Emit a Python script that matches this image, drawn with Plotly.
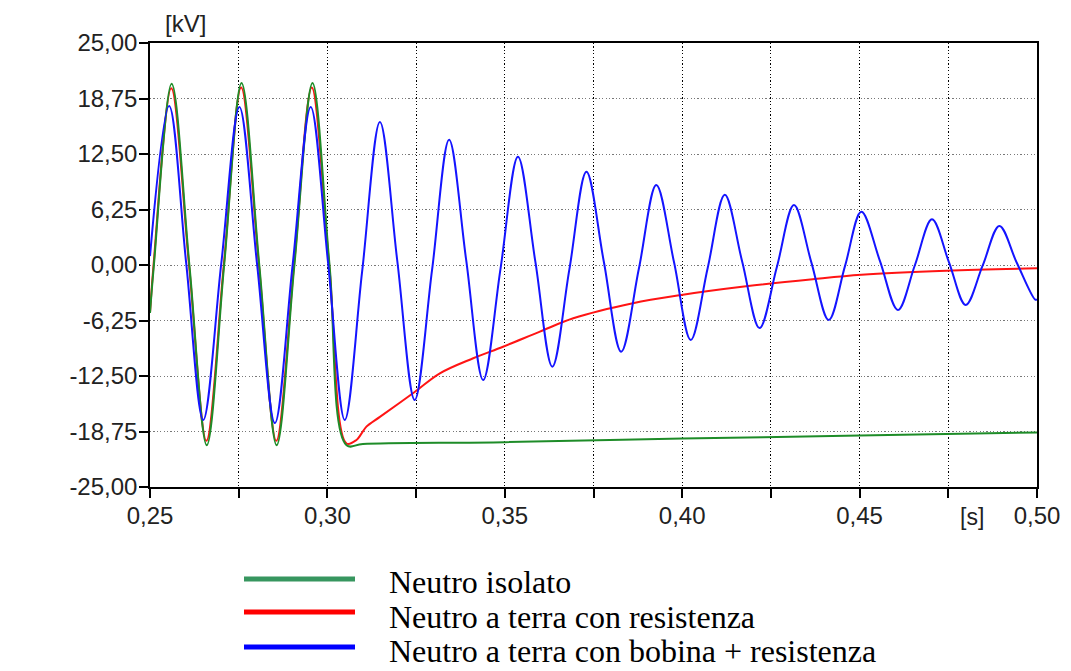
import plotly.graph_objects as go

# ---- data ----
t_green = [0.2500, 0.2511, 0.2561, 0.2611, 0.2660, 0.2709, 0.2758, 0.2808, 0.2857,
           0.2907, 0.2958, 0.3006, 0.3054, 0.3100, 0.3500, 0.4000, 0.4500, 0.5000]
v_green = [-5.4, 0.0, 20.4, 0.0, -20.3, 0.0, 20.5, 0.0, -20.3,
           0.0, 20.5, 0.0, -20.3, -20.15, -19.95, -19.55, -19.2, -18.85]

t_red = [0.2500, 0.2510, 0.2560, 0.2610, 0.2659, 0.2708, 0.2757, 0.2807, 0.2856,
         0.2906, 0.2956, 0.3005, 0.3054, 0.3082, 0.3096, 0.3110, 0.3148, 0.3246,
         0.3317, 0.3411, 0.3495, 0.3599, 0.3693, 0.3861, 0.3993, 0.4180, 0.4368,
         0.4505, 0.4744, 0.5000]
v_red = [-5.4, 0.0, 19.9, 0.0, -19.8, 0.0, 20.0, 0.0, -19.8,
         0.0, 20.0, 0.0, -20.1, -19.7, -19.0, -18.2, -17.1, -14.3,
         -12.2, -10.5, -9.2, -7.5, -6.0, -4.3, -3.4, -2.4, -1.6,
         -1.1, -0.64, -0.37]

t_blue = [0.2500, 0.2554, 0.2602, 0.2650, 0.2701, 0.2752, 0.2802, 0.2852, 0.2902,
          0.2953, 0.3002, 0.3049, 0.3098, 0.3148, 0.3197, 0.3246, 0.3295, 0.3343,
          0.3391, 0.3439, 0.3488, 0.3537, 0.3586, 0.3634, 0.3682, 0.3730, 0.3779,
          0.3828, 0.3878, 0.3927, 0.3977, 0.4024, 0.4072, 0.4120, 0.4169, 0.4218,
          0.4267, 0.4315, 0.4364, 0.4413, 0.4459, 0.4505, 0.4557, 0.4608, 0.4656,
          0.4704, 0.4752, 0.4799, 0.4847, 0.4894, 0.4943, 0.4995, 0.5000]
v_blue = [1.0, 17.9, 0.2, -17.45, 0.2, 17.8, 0.0, -17.8, 0.0,
          17.8, 0.2, -17.45, -0.7, 16.1, 0.45, -15.2, -0.55, 14.1,
          0.6, -12.95, -0.4, 12.2, 0.4, -11.45, -0.5, 10.5, 0.4,
          -9.76, -0.4, 9.0, 0.3, -8.45, -0.3, 7.9, 0.4, -7.1,
          -0.2, 6.75, 0.3, -6.2, -0.1, 6.0, 0.5, -5.07, 0.0,
          5.14, 0.3, -4.5, -0.05, 4.4, 0.25, -3.9, -3.86]

series_names = ["Neutro isolato", "Neutro a terra con resistenza",
                "Neutro a terra con bobina + resistenza"]

x_tickvals = [0.25, 0.275, 0.30, 0.325, 0.35, 0.375, 0.40, 0.425, 0.45, 0.475, 0.50]
x_ticktext = ["0,25", "", "0,30", "", "0,35", "", "0,40", "", "0,45", "", "0,50"]
y_tickvals = [-25, -18.75, -12.5, -6.25, 0, 6.25, 12.5, 18.75, 25]
y_ticktext = ["-25,00", "-18,75", "-12,50", "-6,25", "0,00", "6,25", "12,50", "18,75", "25,00"]

GREEN = "rgb(30,140,40)"
RED = "rgb(255,20,20)"
BLUE = "rgb(20,20,255)"
LEG_COLORS = ["rgb(55,150,95)", "rgb(255,0,0)", "rgb(0,0,255)"]

fig = go.Figure()
fig.add_trace(go.Scatter(x=t_red, y=v_red, mode="lines", name=series_names[1],
                         line=dict(color=RED, width=2, shape="spline", smoothing=1.0),
                         showlegend=False))
fig.add_trace(go.Scatter(x=t_green, y=v_green, mode="lines", name=series_names[0],
                         line=dict(color=GREEN, width=2, shape="spline", smoothing=1.0),
                         showlegend=False))
fig.add_trace(go.Scatter(x=t_blue, y=v_blue, mode="lines", name=series_names[2],
                         line=dict(color=BLUE, width=2, shape="spline", smoothing=1.0),
                         showlegend=False))

# page body has an 8px margin: the figure starts at (8, 8) in the window
OFF = 8
W, H = 1071 - OFF, 671 - OFF
L, R, T, B = 150 - OFF, 1037 - OFF, 43 - OFF, 487 - OFF


def px(x):
    return (x - OFF - L) / (R - L)


def py(y):
    return (B - (y - OFF)) / (B - T)


shapes = []
annotations = []
leg_line_y = [579, 612, 647]
leg_text_y = [582, 617, 651]
for i, name in enumerate(series_names):
    shapes.append(dict(type="line", xref="paper", yref="paper",
                       x0=px(244), x1=px(355), y0=py(leg_line_y[i]), y1=py(leg_line_y[i]),
                       line=dict(color=LEG_COLORS[i], width=5)))
    annotations.append(dict(xref="paper", yref="paper", x=px(387), y=py(leg_text_y[i]),
                            text=name, showarrow=False, xanchor="left", yanchor="middle",
                            font=dict(family="Liberation Serif", size=32, color="black")))

annotations.append(dict(xref="paper", yref="paper", x=px(185), y=py(23), text="[kV]",
                        showarrow=False, xanchor="center", yanchor="middle",
                        font=dict(family="Liberation Sans", size=24, color="#222")))
annotations.append(dict(xref="paper", yref="paper", x=px(972), y=py(517), text="[s]",
                        showarrow=False, xanchor="center", yanchor="middle",
                        font=dict(family="Liberation Sans", size=23, color="#222")))

fig.update_layout(
    width=W, height=H,
    margin=dict(l=L, r=W - R, t=T, b=H - B, pad=0, autoexpand=False),
    paper_bgcolor="white", plot_bgcolor="white",
    shapes=shapes, annotations=annotations,
    showlegend=False,
    xaxis=dict(range=[0.25, 0.50], tickmode="array", tickvals=x_tickvals, ticktext=x_ticktext,
               automargin=False, ticklabelstandoff=-3,
               ticks="outside", ticklen=9, tickwidth=1.5, tickcolor="black",
               showline=True, linecolor="black", linewidth=1.5, mirror=True,
               showgrid=True, gridcolor="black", gridwidth=1.2, griddash="1.2px,2.2px",
               zeroline=False,
               tickfont=dict(family="Liberation Sans", size=24, color="#222")),
    yaxis=dict(range=[-25, 25], tickmode="array", tickvals=y_tickvals, ticktext=y_ticktext,
               automargin=False, ticklabelstandoff=-3,
               ticks="outside", ticklen=9, tickwidth=1.5, tickcolor="black",
               showline=True, linecolor="black", linewidth=1.5, mirror=True,
               showgrid=True, gridcolor="rgb(120,120,120)", gridwidth=1.2, griddash="1.2px,2.2px",
               zeroline=False,
               tickfont=dict(family="Liberation Sans", size=24, color="#222")),
)

fig.write_html("out.html")
